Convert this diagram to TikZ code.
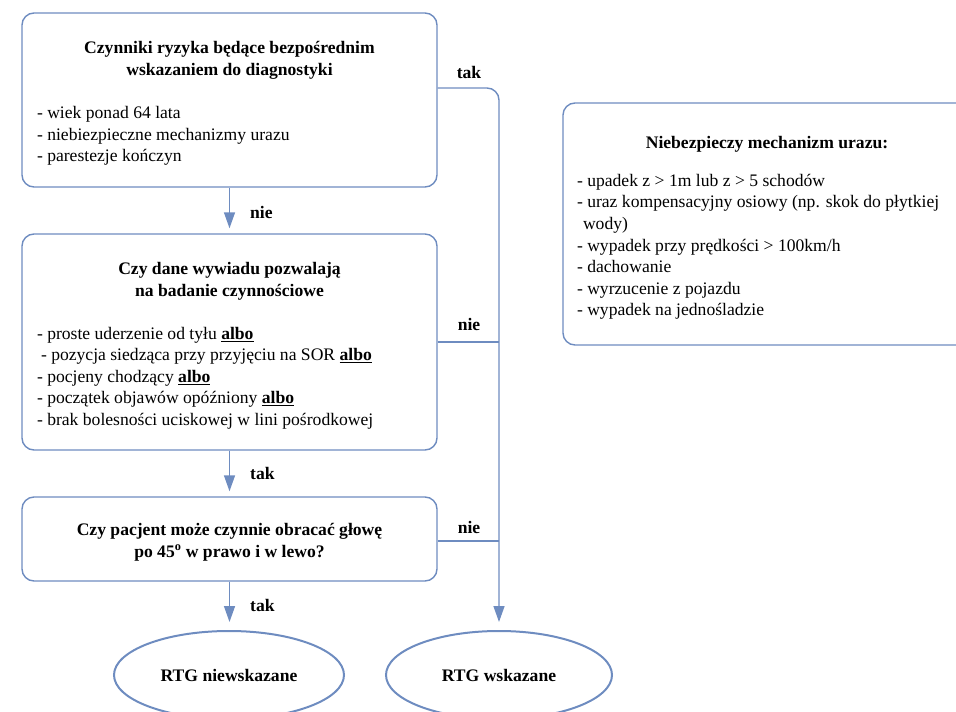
\documentclass[tikz,border=0pt]{standalone}
\usepackage{fontspec}
\setmainfont{Liberation Serif}
\usetikzlibrary{arrows.meta,shapes.geometric}
\definecolor{bl}{RGB}{110,140,192}
\newcommand{\fs}{\fontsize{17.6}{21.6}\selectfont}
\begin{document}
\begin{tikzpicture}[x=1pt,y=-1pt,
  box/.style={draw=bl, line width=1.4pt, rounded corners=12pt, inner sep=0pt, minimum width=415pt},
  oval/.style={ellipse, draw=bl, line width=2pt, inner sep=0pt, font=\fs\bfseries},
  conn/.style={draw=bl, line width=1.4pt},
  arr/.style={conn, -{Triangle[width=11pt,length=16pt]}},
  lbl/.style={font=\fs\bfseries, inner sep=0pt}]
\useasboundingbox (0,0) rectangle (956,712);

\node[box, minimum height=174pt] (b1) at (229.5,100) {%
  \begin{minipage}{385pt}\fs\vspace*{7pt}
  \centering\bfseries Czynniki ryzyka będące bezpośrednim\\ wskazaniem do diagnostyki\par
  \vspace{21.5pt}\raggedright\mdseries
  - wiek ponad 64 lata\\
  - niebiezpieczne mechanizmy urazu\\
  - parestezje kończyn\par
  \end{minipage}};

\node[box, minimum height=216pt] (b2) at (229.5,342) {%
  \begin{minipage}{385pt}\fs\vspace*{8pt}
  \centering\bfseries Czy dane wywiadu pozwalają\\ na badanie czynnościowe\par
  \vspace{21pt}\raggedright\mdseries
  - proste uderzenie od tyłu \underline{\textbf{albo}}\\
  \hspace*{4pt}- pozycja siedząca przy przyjęciu na SOR \underline{\textbf{albo}}\\
  - pocjeny chodzący \underline{\textbf{albo}}\\
  - początek objawów opóźniony \underline{\textbf{albo}}\\
  - brak bolesności uciskowej w lini pośrodkowej\par
  \end{minipage}};

\node[box, minimum height=84pt] (b3) at (229.5,539) {%
  \begin{minipage}{385pt}\fs\vspace*{6pt}
  \centering\bfseries Czy pacjent może czynnie obracać głowę\\ po 45\textsuperscript{o} w prawo i w lewo?\par
  \end{minipage}};

\node[box, minimum width=408pt, minimum height=242pt] (r) at (767,224) {%
  \begin{minipage}{380pt}\fs\vspace*{8pt}
  \centering\bfseries Niebezpieczy mechanizm urazu:\par
  \vspace{16pt}\raggedright\mdseries
  - upadek z > 1m lub z > 5 schodów\\
  - uraz kompensacyjny osiowy (np. skok do płytkiej\\
  \hspace*{6pt}wody)\\
  - wypadek przy prędkości > 100km/h\\
  - dachowanie\\
  - wyrzucenie z pojazdu\\
  - wypadek na jednośladzie\par
  \end{minipage}};

\node[oval, minimum width=230pt, minimum height=88pt] (e1) at (229,675) {RTG niewskazane};
\node[oval, minimum width=226pt, minimum height=88pt] (e2) at (499,675) {RTG wskazane};

\draw[arr, shorten >=5pt] (b1.south) -- (b2.north);
\draw[arr, shorten >=5pt] (b2.south) -- (b3.north);
\draw[arr, shorten >=8pt] (b3.south) -- (b3.south |- e1.north);
\draw[arr, shorten >=8pt, rounded corners=12pt] ([yshift=12pt]b1.east) -| (e2.north);
\draw[conn] (b2.east) -- (b2.east -| e2.north);
\draw[conn] ([yshift=-2pt]b3.east) -- ([yshift=-2pt]b3.east -| e2.north);

\node[lbl] (l1) at (469,72) {tak};
\node[lbl] (l2) at (469,324) {nie};
\node[lbl] (l3) at (469,527) {nie};
\node[lbl, anchor=west] (l4) at (250,212) {nie};
\node[lbl, anchor=west] (l5) at (250,473) {tak};
\node[lbl, anchor=west] (l6) at (250,605) {tak};
\end{tikzpicture}
\end{document}
